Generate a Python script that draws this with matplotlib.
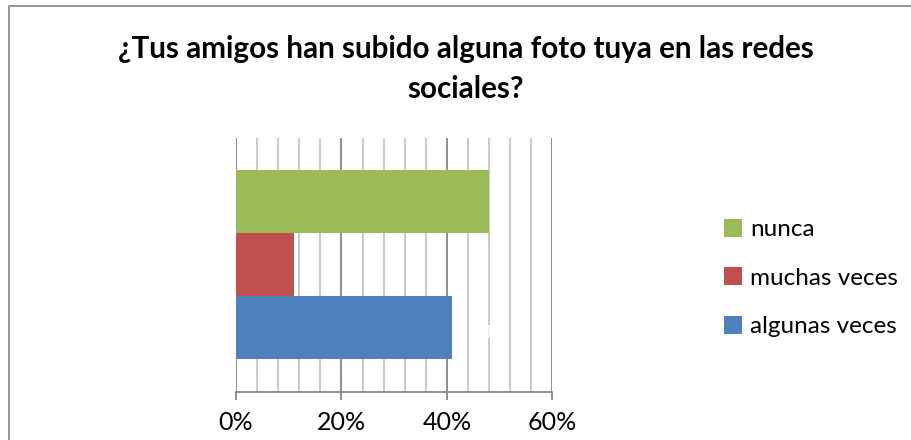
import matplotlib.pyplot as plt
from matplotlib.patches import Rectangle
from matplotlib.ticker import MultipleLocator, FuncFormatter

plt.rcParams['font.family'] = ['Lato', 'DejaVu Sans']

title = "¿Tus amigos han subido alguna foto tuya en las redes\nsociales?"
series = ["algunas veces", "muchas veces", "nunca"]
values = [41, 11, 48]
colors = ["#4f81bd", "#c0504d", "#9bbb59"]
label_texts = ["41%", "", ""]

fig = plt.figure(figsize=(9.12, 4.40), dpi=100)
fig.patch.set_facecolor("white")

# outer chart frame (cut off on the right and bottom like the original)
frame_top = 1 - 6 / 440
fig.patches.append(Rectangle((9 / 912, -0.05), 1.0, frame_top + 0.05,
                             transform=fig.transFigure, fill=False,
                             edgecolor="#868686", linewidth=1.2))

ax = fig.add_axes([236 / 912, 48 / 440, 316.3 / 912, 254 / 440])

bars = []
for i, (name, val, col) in enumerate(zip(series, values, colors)):
    b = ax.barh(i, val, height=1.0, color=col, label=name, zorder=3)
    bars.append(b)

# white data label (almost invisible, as in the original)
for b, txt in zip(bars, label_texts):
    if txt:
        ax.annotate(txt, xy=(b[0].get_width(), b[0].get_y() + b[0].get_height() / 2),
                    xytext=(28, -4), textcoords="offset points", ha="center", va="center",
                    color="white", fontsize=12, zorder=4)

ax.set_xlim(0, 60)
ax.set_ylim(-1.02, 3.01)
ax.xaxis.set_major_locator(MultipleLocator(20))
ax.xaxis.set_minor_locator(MultipleLocator(4))
ax.xaxis.set_major_formatter(FuncFormatter(lambda v, p: f"{int(v)}%"))
ax.set_yticks([])

ax.grid(axis="x", which="minor", color="#c6c6c6", linewidth=1.3, zorder=0)
ax.grid(axis="x", which="major", color="#868686", linewidth=1.3, zorder=1)

for side in ["top", "right", "left"]:
    ax.spines[side].set_visible(False)
ax.spines["bottom"].set_color("#868686")
ax.spines["bottom"].set_linewidth(1.3)
ax.tick_params(axis="x", which="major", length=6, width=1.3, color="#868686",
               labelsize=18, pad=8, labelcolor="black")
ax.tick_params(axis="x", which="minor", length=0)

fig.text(466 / 912, 1 - 69 / 440, title, ha="center", va="center", fontsize=21.3,
         fontweight="bold", linespacing=1.5)

handles, labels = ax.get_legend_handles_labels()
leg = fig.legend(handles[::-1], labels[::-1], loc="upper left",
                 bbox_to_anchor=(714 / 912, 1 - 209 / 440), frameon=False,
                 fontsize=17.5, handlelength=0.75, handleheight=0.75,
                 handletextpad=0.35, labelspacing=1.12, borderaxespad=0)

fig.savefig("out.png", dpi=100)
